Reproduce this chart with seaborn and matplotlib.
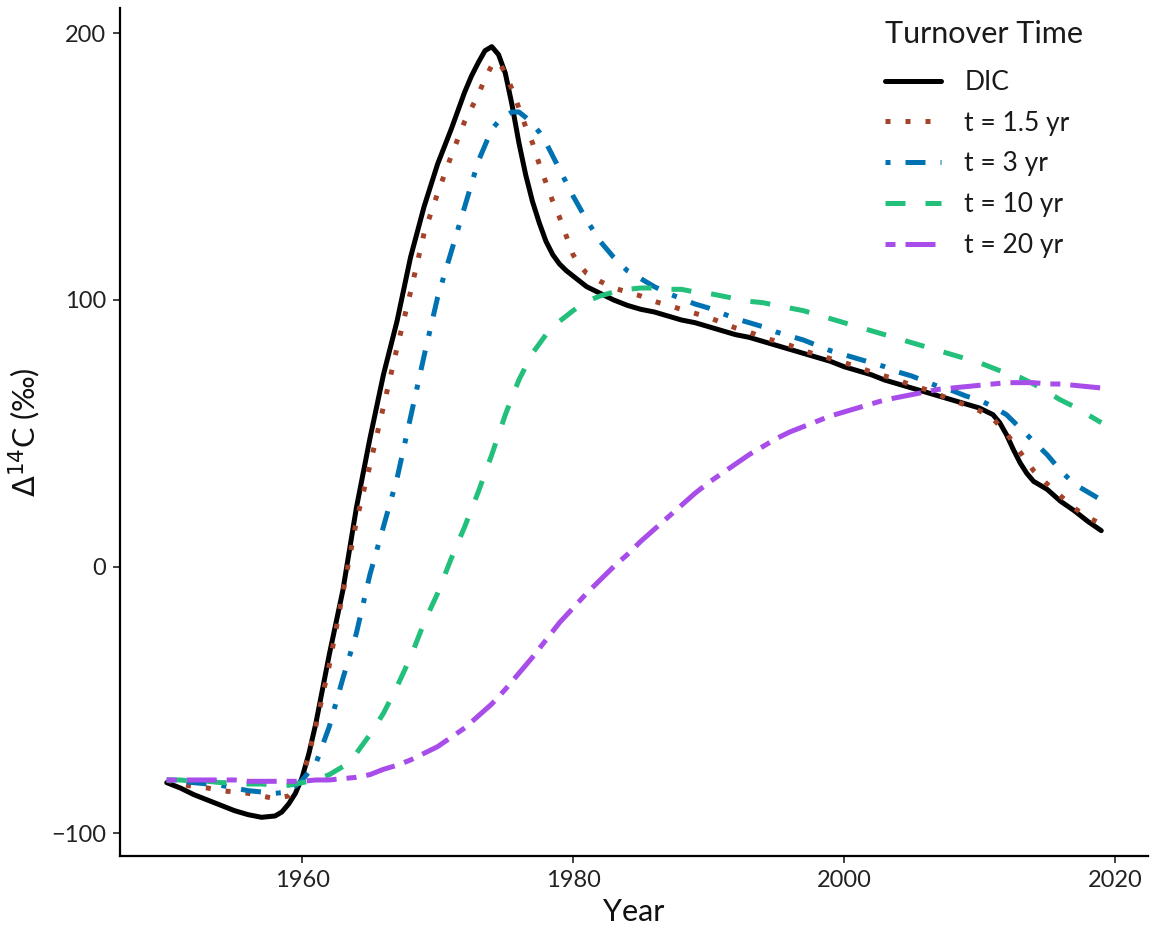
import numpy as np
import pandas as pd
import matplotlib
matplotlib.use("Agg")
import matplotlib.pyplot as plt
import seaborn as sns

annual = list(range(1950, 2020))

dic_years = ([1950, 1951, 1952, 1953, 1954, 1955, 1956, 1957, 1958, 1958.5,
              1959, 1959.5, 1960, 1960.5, 1961, 1962, 1963, 1964, 1965, 1966,
              1967, 1968, 1969, 1970, 1971, 1972, 1972.5, 1973, 1973.5, 1974,
              1974.5, 1975, 1975.5, 1976, 1976.5, 1977, 1977.5, 1978, 1978.5, 1979,
              1979.5, 1980] + list(range(1981, 2011)) +
             [2011, 2011.5, 2012, 2012.5, 2013, 2013.5, 2014, 2015, 2016, 2017,
              2018, 2019])
dic = [-81, -83, -85.5, -87.5, -89.5, -91.5, -93, -94, -93.5, -92,
       -89, -85, -79, -70, -59, -33, -9, 22, 48, 72,
       92, 116, 135, 151, 164, 178, 184, 189, 193.5, 195,
       192, 185, 173, 159, 147, 137, 129, 122, 117, 113.5,
       111, 109,
       105, 102.5, 100, 98, 96.5, 95.5, 94, 92.5, 91.5, 90,
       88.5, 87, 86, 84.5, 83, 81.5, 80, 78.5, 77, 75,
       73.5, 72, 70, 68.5, 67, 65.5, 64, 62.5, 61, 59.5,
       57, 54, 49.5, 44, 39, 35, 32, 29, 24.5, 21,
       17, 13.5]

t15_years = (list(range(1950, 1972)) +
             [1972, 1972.5, 1973, 1973.5, 1974, 1974.5, 1975, 1975.5, 1976, 1976.5,
              1977, 1977.5, 1978, 1978.5, 1979, 1979.5, 1980, 1980.5] +
             list(range(1981, 2020)))
t15 = [-80, -81.5, -82.5, -83, -84, -84.5, -85, -86, -87, -86,
       -80, -60, -37, -10, 17, 38, 60, 82, 103, 125,
       140, 154,
       167, 172, 177, 183, 188, 189.5, 185, 179, 172, 165,
       159, 151, 144, 137, 131, 124, 117, 113,
       110, 107, 104.5, 103, 101.5, 99.5, 98, 96.5, 95, 93.5,
       91.5, 89.5, 88, 86, 84.5, 83, 81, 79.5, 78, 76.5,
       75, 73, 71.5, 70, 68, 66.5, 64.5, 62.5, 60.5, 58.5,
       55.5, 50, 43, 36, 31, 26.5, 22, 18.5, 16]

t3_years = (list(range(1950, 1974)) +
            [1974, 1974.5, 1975, 1975.5, 1976, 1976.5, 1977, 1977.5, 1978, 1978.5,
             1979, 1979.5, 1980] + list(range(1981, 2020)))
t3 = [-80, -80.5, -81, -81.5, -82, -83, -84, -84.5, -85, -84.5,
      -80, -74, -60, -42, -25, -3, 15, 33, 56, 79,
      101, 118, 135, 152,
      164, 167, 169, 170.5, 170.5, 168.5, 166, 163, 159, 154,
      149, 144, 139,
      130, 122, 116, 111, 108, 105, 102.5, 100.5, 98.5, 97,
      95, 93, 91.5, 90, 88, 86.5, 85, 83, 81, 79.5,
      78, 76.5, 75, 73, 71.5, 69.5, 67.5, 66, 64, 62.5,
      60, 57, 52, 47, 42, 36, 31, 28, 25]

t10 = [-80, -80, -80.5, -80.5, -81, -81, -81.5, -81.5, -82, -82,
       -81, -80, -78, -75, -70, -63, -55, -45, -34, -21,
       -10, 3, 15, 28, 42, 57, 70, 80, 87, 92,
       96, 99.5, 101.5, 103, 104, 104.5, 104.5, 104, 104, 103,
       102.5, 101.5, 100.5, 99.5, 99, 98, 97, 96, 94.5, 93,
       91.5, 90, 88.5, 87, 85.5, 84, 82.5, 81, 79.5, 78,
       76.5, 74.5, 72.5, 71, 68.5, 65.5, 62.5, 60, 57, 54]

t20 = [-80, -80, -80, -80, -80, -80, -80.5, -80.5, -80.5, -80.5,
       -80.5, -80, -80, -79.5, -79, -78, -76, -74.5, -72.5, -70,
       -67.5, -64, -60.5, -56, -51.5, -46, -40, -34, -27.5, -21,
       -15.5, -10, -5, 0, 4.5, 9.5, 14, 18.5, 23, 27.5,
       31.5, 35, 38.5, 42, 45, 48, 50.5, 52.5, 54.5, 56.5,
       58, 59.5, 61, 62.5, 63.5, 64.5, 65.5, 66.5, 67, 67.5,
       68, 68.5, 69, 69, 69, 68.5, 68.5, 68, 67.5, 67]

series_names = ["DIC", "t = 1.5 yr", "t = 3 yr", "t = 10 yr", "t = 20 yr"]
series_years = [dic_years, t15_years, t3_years, annual, annual]
series_values = [dic, t15, t3, t10, t20]
colors = ["#000000", "#A5432A", "#0072B2", "#22C07B", "#A84CEA"]
x_ticks = [1960, 1980, 2000, 2020]
y_ticks = [-100, 0, 100, 200]

df = pd.concat([pd.DataFrame({"Year": y, "value": v, "series": n})
                for n, y, v in zip(series_names, series_years, series_values)],
               ignore_index=True)

sns.set_theme(style="ticks")
plt.rcParams["font.family"] = ["Lato", "DejaVu Sans"]

fig = plt.figure(figsize=(11.54, 9.30), dpi=100)
ax = fig.add_axes([0.104, 0.0796, 0.8908, 0.9118])

LW = 3.6
palette = dict(zip(series_names, colors))
dashes = {
    "DIC": "",
    "t = 1.5 yr": (1, 3),
    "t = 3 yr": (1, 3, 4, 3),
    "t = 10 yr": (4, 4),
    "t = 20 yr": (2, 2, 6, 2),
}
sns.lineplot(data=df, x="Year", y="value", hue="series", style="series",
             hue_order=series_names, style_order=series_names,
             palette=palette, dashes=dashes, linewidth=LW, ax=ax,
             legend=True, sort=True)
for ln in ax.get_lines():
    ln.set_dash_capstyle("butt")
    ln.set_solid_joinstyle("round")
    ln.set_dash_joinstyle("round")

ax.set_xlim(1946.55, 2022.45)
ax.set_ylim(-108.5, 209.5)
ax.set_xticks(x_ticks)
ax.set_yticks(y_ticks)
ax.tick_params(axis="both", length=5, width=1.3, color="#333333",
               labelsize=17, labelcolor="#222222", pad=5)
for s in ["top", "right"]:
    ax.spines[s].set_visible(False)
for s in ["left", "bottom"]:
    ax.spines[s].set_linewidth(1.6)
    ax.spines[s].set_color("black")

ax.set_xlabel("Year", fontsize=22, labelpad=5, color="#111111")
ax.set_ylabel(r"$\Delta^{14}$C (‰)", fontsize=22, labelpad=6, color="#111111")

handles, labels = ax.get_legend_handles_labels()
ax.get_legend().remove()
leg = fig.legend(handles, labels, title="Turnover Time", loc="upper left",
                 bbox_to_anchor=(0.767, 0.979), frameon=False,
                 fontsize=19, title_fontsize=22, handlelength=2.1,
                 handletextpad=0.9, labelspacing=0.6, borderaxespad=0,
                 borderpad=0, labelcolor="#1a1a1a")
leg.get_title().set_color("#1a1a1a")
leg._legend_box.align = "left"
leg._legend_box.sep = 16
for h in leg.legend_handles:
    h.set_linewidth(LW)

fig.savefig("out.png", dpi=100)
